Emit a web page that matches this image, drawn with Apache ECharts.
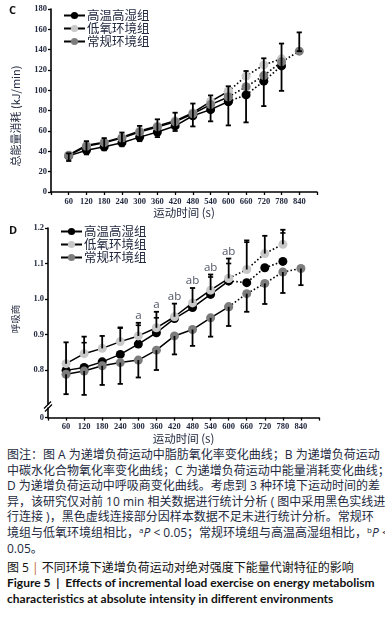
<!doctype html>
<html><head><meta charset="utf-8" />
<style>
html,body{margin:0;padding:0;background:#fff;width:385px;height:617px;overflow:hidden}
#app{position:absolute;left:0;top:0;width:385px;height:445px}
#cap{position:absolute;left:7px;top:447px;width:365px;font-family:"Open Sans","Noto Sans CJK SC",sans-serif;font-size:12px;color:#232a40}
#cap div{height:15.6px;line-height:15.6px;white-space:nowrap}
#cap .j{text-align:justify;text-align-last:justify}
#cap sup{font-size:8px;vertical-align:4px;line-height:0}
#cap .t{margin-top:3.4px;color:#111}
#cap .t b{color:#c0651f;font-weight:normal}
#cap .f{font-family:Lato,"Noto Sans CJK SC",sans-serif;font-weight:bold;color:#111;height:15.8px;line-height:15.8px}
</style>
</head><body><div id="app"></div>
<div id="cap">
  <div class="j">图注：图 A 为递增负荷运动中脂肪氧化率变化曲线；B 为递增负荷运动</div>
  <div class="j">中碳水化合物氧化率变化曲线；C 为递增负荷运动中能量消耗变化曲线；</div>
  <div class="j">D 为递增负荷运动中呼吸商变化曲线。考虑到 3 种环境下运动时间的差</div>
  <div class="j">异，该研究仅对前 10 min 相关数据进行统计分析 ( 图中采用黑色实线进</div>
  <div class="j">行连接 )，黑色虚线连接部分因样本数据不足未进行统计分析。常规环</div>
  <div class="j">境组与低氧环境组相比，<sup>a</sup><i>P</i> &lt; 0.05；常规环境组与高温高湿组相比，<sup>b</sup><i>P</i> &lt;</div>
  <div>0.05。</div>
  <div class="t">图 5 <b>|</b> 不同环境下递增负荷运动对绝对强度下能量代谢特征的影响</div>
  <div class="f j">Figure 5 &nbsp;|&nbsp; Effects of incremental load exercise on energy metabolism</div>
  <div class="f">characteristics at absolute intensity in different environments</div>
</div>
<script src="https://cdn.jsdelivr.net/npm/echarts@6.0.0/dist/echarts.min.js"></script>
<script>
// exercise time (s)
const times = [60, 120, 180, 240, 300, 360, 420, 480, 540, 600, 660, 720, 780, 840];
const groups = ['高温高湿组', '低氧环境组', '常规环境组'];
const groupColors = ['#000000', '#c8c8c8', '#7d7d7d'];

// panel C: total energy expenditure (kJ/min)
const energyHot = [35.5, 41, 44.5, 48.5, 54, 59, 65, 75, 81, 89, 95.5, 109, 124];
const energyHypoxia = [36.5, 46, 49, 54, 60, 65, 70, 78, 89, 99, 114, 125, 131];
const energyNormal = [36, 45, 48.5, 53, 59, 64, 69, 77, 86, 93.5, 103.5, 114.5, 128, 138.5];
const energyErrLow = [30.5, 37, 41, 45, 50, 54, 60, 64.5, 69.5, 65.5, 68.5, 84.5, 99.5, 138.5];
const energyErrHigh = [38, 50, 53, 58.5, 65, 71.5, 78, 87, 95, 104, 119, 131.5, 146, 157];

// panel D: respiratory quotient
const rqHot = [0.799, 0.807, 0.823, 0.844, 0.873, 0.905, 0.945, 0.976, 1.013, 1.051, 1.046, 1.088, 1.106];
const rqHypoxia = [0.818, 0.846, 0.861, 0.880, 0.896, 0.919, 0.950, 0.989, 1.025, 1.058, 1.083, 1.128, 1.154];
const rqNormal = [0.788, 0.797, 0.812, 0.821, 0.828, 0.856, 0.896, 0.914, 0.947, 0.978, 1.015, 1.044, 1.076, 1.086];
const rqErrUp = [0.878, 0.894, 0.896, 0.920, 0.933, 0.964, 0.987, 1.031, 1.069, 1.114, 1.165, 1.178, 1.195, null];
const rqErrUp2 = [null, 0.877, null, 0.918, 0.926, 0.947, null, null, 1.062, 1.100, 1.160, null, 1.186, null];
const rqErrDown = [0.732, 0.730, 0.758, 0.761, 0.779, 0.800, 0.844, 0.868, 0.894, 0.924, 0.964, 0.986, 1.017, 1.039];
const rqSig = ['', '', '', '', 'a', 'a', 'ab', 'ab', 'ab', 'ab', '', '', '', ''];

// y ticks
const energyTicks = [0, 180, 20];
const rqTicks = [0.8, 0.9, 1.0, 1.1, 1.2];
const rqBottom = 0.666;

const textColor = '#232a40';
const solidUntil = 9; // index of 600 s

function lineSeries(name, values, gi) {
  const c = groupColors[groups.indexOf(name)];
  const pts = values.map((v, i) => [times[i], v]);
  const common = {
    type: 'line', xAxisIndex: gi, yAxisIndex: gi, symbol: 'circle', symbolSize: 9,
    itemStyle: { color: c }, emphasis: { disabled: true }, animation: false
  };
  return [
    Object.assign({ name: name, data: pts.slice(0, solidUntil + 1), lineStyle: { color: '#000', width: 1.5 } }, common),
    Object.assign({ name: name + '_d', data: pts.slice(solidUntil), lineStyle: { color: '#000', width: 1.6, type: [1.6, 2.2] } }, common)
  ];
}

function errSeries(items, gi, capFrom) {
  return {
    type: 'custom', xAxisIndex: gi, yAxisIndex: gi, data: items, z: 5, animation: false,
    renderItem: function (params, api) {
      const a = api.coord([api.value(0), api.value(1)]);
      const b = api.coord([api.value(0), api.value(2)]);
      const st = { stroke: '#000', lineWidth: 1.8 };
      const ch = [
        { type: 'line', shape: { x1: a[0], y1: a[1], x2: b[0], y2: b[1] }, style: st },
        { type: 'line', shape: { x1: b[0] - 2.6, y1: b[1], x2: b[0] + 2.6, y2: b[1] }, style: st }
      ];
      if (capFrom) ch.push({ type: 'line', shape: { x1: a[0] - 2.6, y1: a[1], x2: a[0] + 2.6, y2: a[1] }, style: st });
      return { type: 'group', children: ch };
    }
  };
}

function capSeries(items, gi) {
  return {
    type: 'custom', xAxisIndex: gi, yAxisIndex: gi, data: items, z: 5, animation: false,
    renderItem: function (params, api) {
      const b = api.coord([api.value(0), api.value(1)]);
      return { type: 'line', shape: { x1: b[0] - 2.6, y1: b[1], x2: b[0] + 2.6, y2: b[1] }, style: { stroke: '#000', lineWidth: 1.6 } };
    }
  };
}

const tickFont = { fontFamily: 'Liberation Serif', fontWeight: 'bold', fontSize: 8.5, color: textColor };

function xAxis(gi, gap) {
  return {
    type: 'value', gridIndex: gi, min: 0, max: 900, interval: 60,
    axisLine: { lineStyle: { color: '#000', width: 1.6 } },
    axisTick: { length: 3, lineStyle: { color: '#000', width: 1.3 } },
    axisLabel: Object.assign({ margin: 5, formatter: v => (v === 0 || v === 900) ? '' : v }, tickFont),
    splitLine: { show: false },
    name: '运动时间 (s)', nameLocation: 'middle', nameGap: gap,
    nameTextStyle: { fontFamily: 'Noto Sans CJK SC', fontSize: 11.5, color: textColor }
  };
}

const series = [];
[energyHot, energyHypoxia, energyNormal].forEach((d, k) => series.push(...lineSeries(groups[k], d, 0)));
[rqHot, rqHypoxia, rqNormal].forEach((d, k) => series.push(...lineSeries(groups[k], d, 1)));
series.push(errSeries(times.map((t, i) => [t, energyErrLow[i], energyErrHigh[i]]), 0, true));
const upItems = [];
times.forEach((t, i) => {
  if (rqErrUp[i] == null) return;
  const base = Math.max(rqHot[i] ?? -1, rqHypoxia[i] ?? -1);
  upItems.push([t, base, rqErrUp[i]]);
});
series.push(errSeries(upItems, 1, false));
series.push(errSeries(times.map((t, i) => [t, rqNormal[i], rqErrDown[i]]), 1, false));
series.push(capSeries(times.map((t, i) => [t, rqErrUp2[i]]).filter(p => p[1] != null), 1));
series.push({
  type: 'scatter', xAxisIndex: 1, yAxisIndex: 1, symbolSize: 0, silent: true, animation: false,
  data: times.map((t, i) => ({ value: [t, rqErrUp[i]], sig: rqSig[i] })).filter(p => p.sig),
  label: { show: true, position: 'top', distance: 1, formatter: p => p.data.sig, fontFamily: 'Open Sans', fontSize: 11.5, color: '#1c2238' }
});

const legendBase = {
  orient: 'vertical', data: groups, itemWidth: 21, itemHeight: 9, itemGap: 0, selectedMode: false,
  textStyle: { fontFamily: 'Noto Sans CJK SC', fontSize: 12.5, lineHeight: 13, height: 13, color: textColor, padding: [0, 0, 0, -3] }
};

const chart = echarts.init(document.getElementById('app'));
chart.setOption({
  animation: false,
  backgroundColor: '#fff',
  legend: [
    Object.assign({ left: 58, top: 4 }, legendBase),
    Object.assign({ left: 55, top: 220 }, legendBase)
  ],
  grid: [
    { left: 51, top: 9, width: 266, height: 183 },
    { left: 48, top: 228, width: 271, height: 190 }
  ],
  xAxis: [xAxis(0, 15), xAxis(1, 12)],
  yAxis: [
    {
      type: 'value', gridIndex: 0, min: energyTicks[0], max: energyTicks[1], interval: energyTicks[2],
      axisLine: { show: true, lineStyle: { color: '#000', width: 1.6 } },
      axisTick: { show: true, length: 3, lineStyle: { color: '#000', width: 1.3 } },
      axisLabel: Object.assign({ margin: 4 }, tickFont),
      splitLine: { show: false }
    },
    {
      type: 'value', gridIndex: 1, min: rqBottom, max: 1.2,
      axisLine: { show: true, lineStyle: { color: '#000', width: 1.6 } },
      axisTick: { show: true, length: 3, customValues: [rqBottom].concat(rqTicks), lineStyle: { color: '#000', width: 1.3 } },
      axisLabel: Object.assign({ margin: 4, customValues: [rqBottom].concat(rqTicks), formatter: v => v < 0.7 ? '0' : v.toFixed(1) }, tickFont),
      splitLine: { show: false }
    }
  ],
  series: series
});

// panel letters, rotated y names, axis break
const brk = chart.convertToPixel({ yAxisIndex: 1 }, 0.7);
const ax = chart.convertToPixel({ xAxisIndex: 1 }, 0);
chart.setOption({
  graphic: [
    { type: 'text', left: 9, top: 5, style: { text: 'C', font: 'bold 11px "Open Sans"', fill: '#111' } },
    { type: 'text', left: 9, top: 225, style: { text: 'D', font: 'bold 11px "Open Sans"', fill: '#111' } },
    { type: 'text', x: 16, y: 116, rotation: Math.PI / 2, style: { text: '总能量消耗 (kJ/min)', font: '11px "Noto Sans CJK SC"', fill: textColor, align: 'center', verticalAlign: 'middle' } },
    { type: 'text', x: 15, y: 319, rotation: Math.PI / 2, style: { text: '呼吸商', font: '9.5px "Noto Sans CJK SC"', fill: textColor, align: 'center', verticalAlign: 'middle' } },
    { type: 'rect', shape: { x: ax - 2, y: brk - 1, width: 4, height: 3 }, style: { fill: '#fff' }, z: 50 },
    { type: 'line', shape: { x1: ax - 4, y1: brk + 3, x2: ax + 3, y2: brk - 4 }, style: { stroke: '#000', lineWidth: 1.2 }, z: 51 },
    { type: 'line', shape: { x1: ax - 3, y1: brk + 6, x2: ax + 4, y2: brk - 1 }, style: { stroke: '#000', lineWidth: 1.2 }, z: 51 }
  ]
});
</script></body></html>
